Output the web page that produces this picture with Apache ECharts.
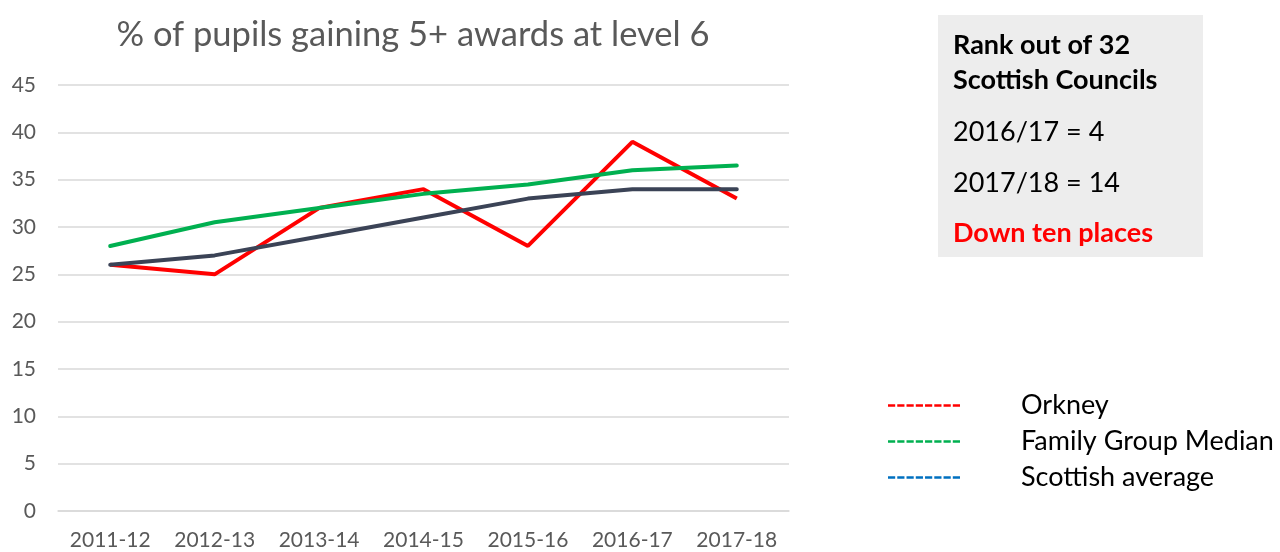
<!DOCTYPE html>
<html>
<head>
<meta charset="utf-8">
<script src="https://cdn.jsdelivr.net/npm/echarts@6/dist/echarts.min.js"></script>
<style>
html, body { margin: 0; padding: 0; background: #fff; }
#chart { width: 1280px; height: 552px; }
</style>
</head>
<body>
<div id="chart"></div>
<script>
'use strict';

// data
var years = ['2011-12', '2012-13', '2013-14', '2014-15', '2015-16', '2016-17', '2017-18'];
var orkney = [26, 25, 32, 34, 28, 39, 33];
var familyMedian = [28, 30.5, 32, 33.5, 34.5, 36, 36.5];
var scottishAvg = [26, 27, 29, 31, 33, 34, 34];
var seriesNames = ['Orkney', 'Family Group Median', 'Scottish average'];
var legendColors = ['#FF0000', '#00B050', '#0070C0'];

var font = 'Lato, "Open Sans", sans-serif';

// dashed sample for the legend, 8 dashes
var dashPath = 'path://';
for (var i = 0; i < 8; i++) {
    var x0 = i * 9;
    dashPath += 'M' + x0 + ',0 L' + (x0 + 7) + ',0 L' + (x0 + 7) + ',2.4 L' + x0 + ',2.4 Z ';
}

var chart = echarts.init(document.getElementById('chart'));

var option = {
    animation: false,
    title: {
        text: '% of pupils gaining 5+ awards at level 6',
        left: 408,
        textAlign: 'center',
        top: 12,
        textStyle: { fontFamily: font, fontWeight: 'normal', fontSize: 34.5, color: '#595959' }
    },
    grid: { left: 58, right: 491, top: 85, bottom: 41 },
    legend: {
        orient: 'vertical',
        left: 883,
        top: 387,
        itemWidth: 72,
        itemHeight: 3,
        itemGap: 9,
        textStyle: { fontFamily: font, fontSize: 27, color: '#000', padding: [0, 0, 0, 56] },
        data: seriesNames.map(function (n, i) {
            return { name: n, icon: dashPath, itemStyle: { color: legendColors[i] } };
        })
    },
    xAxis: {
        type: 'category',
        data: years,
        boundaryGap: true,
        axisLine: { show: true, lineStyle: { color: '#D9D9D9', width: 1.5 } },
        axisTick: { show: false },
        axisLabel: { fontFamily: font, fontSize: 21, color: '#595959', margin: 19, interval: 0, hideOverlap: false }
    },
    yAxis: {
        type: 'value',
        min: 0,
        max: 45,
        interval: 5,
        axisLine: { show: false },
        axisTick: { show: false },
        splitLine: { lineStyle: { color: '#D9D9D9', width: 1.5 } },
        axisLabel: { fontFamily: font, fontSize: 21, color: '#595959', margin: 22 }
    },
    graphic: [
        {
            type: 'rect',
            shape: { x: 938, y: 15, width: 265, height: 242 },
            style: { fill: '#EDEDED' },
            z: 0
        },
        {
            type: 'text', x: 953, y: 45,
            style: { text: 'Rank out of 32', font: 'bold 27px ' + font, fill: '#000', verticalAlign: 'middle' }
        },
        {
            type: 'text', x: 953, y: 80,
            style: { text: 'Scottish Councils', font: 'bold 27px ' + font, fill: '#000', verticalAlign: 'middle' }
        },
        {
            type: 'text', x: 953, y: 132,
            style: { text: '2016/17 = 4', font: '27px ' + font, fill: '#000', verticalAlign: 'middle' }
        },
        {
            type: 'text', x: 953, y: 183,
            style: { text: '2017/18 = 14', font: '27px ' + font, fill: '#000', verticalAlign: 'middle' }
        },
        {
            type: 'text', x: 953, y: 233,
            style: { text: 'Down ten places', font: 'bold 27px ' + font, fill: '#FF0000', verticalAlign: 'middle' }
        }
    ],
    series: [
        {
            name: seriesNames[0], type: 'line', data: orkney,
            symbol: 'none', z: 3,
            lineStyle: { color: '#FF0000', width: 4 },
            itemStyle: { color: '#FF0000' }
        },
        {
            name: seriesNames[1], type: 'line', data: familyMedian,
            symbol: 'none', z: 4,
            lineStyle: { color: '#00B050', width: 4, cap: 'round' },
            itemStyle: { color: '#00B050' }
        },
        {
            name: seriesNames[2], type: 'line', data: scottishAvg,
            symbol: 'none', z: 5,
            lineStyle: { color: '#3B4356', width: 4, cap: 'round' },
            itemStyle: { color: '#3B4356' }
        }
    ]
};

chart.setOption(option);
</script>
</body>
</html>
